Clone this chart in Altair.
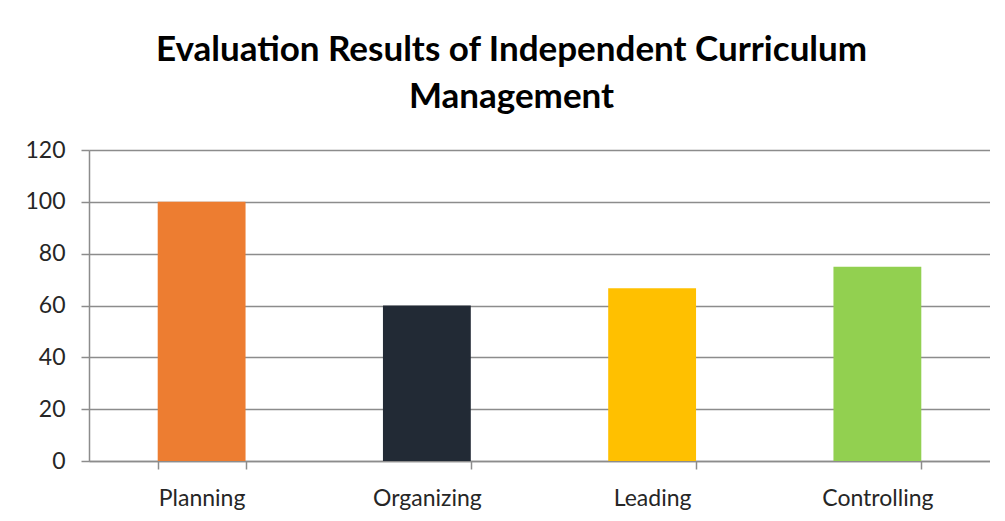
import altair as alt
import pandas as pd

categories = ["Planning", "Organizing", "Leading", "Controlling"]
values = [100, 60, 66.7, 75]
colors = ["#ED7D31", "#222A35", "#FFC000", "#92D050"]

df = pd.DataFrame({"category": categories, "value": values})

FONT = "Lato"

chart = alt.Chart(df).mark_bar().encode(
    x=alt.X("category:N", sort=categories,
            scale=alt.Scale(paddingInner=0.61, paddingOuter=0.305),
            axis=alt.Axis(title=None, labelAngle=0, labelFontSize=23, labelFont=FONT,
                          labelColor="#262626", labelPadding=18, tickBand="extent",
                          tickSize=8, tickColor="#8c8c8c", domainColor="#8c8c8c",
                          tickWidth=1.5, domainWidth=1.5, grid=False)),
    y=alt.Y("value:Q", scale=alt.Scale(domain=[0, 120]),
            axis=alt.Axis(title=None, values=[0, 20, 40, 60, 80, 100, 120],
                          labelFontSize=23, labelFont=FONT, labelColor="#262626",
                          labelPadding=16, tickSize=8, tickColor="#8c8c8c",
                          domainColor="#8c8c8c", tickWidth=1.5, domainWidth=1.5,
                          gridColor="#8c8c8c", gridWidth=1.5)),
    color=alt.Color("category:N", sort=categories,
                    scale=alt.Scale(domain=categories, range=colors), legend=None),
).properties(
    width=901,
    height=311,
    title=alt.TitleParams(
        text=["Evaluation Results of Independent Curriculum", "Management"],
        fontSize=35, font=FONT, fontWeight="bold", color="#000000",
        anchor="middle", dx=-28, offset=24, lineHeight=47,
    ),
    padding={"left": 16, "top": 25, "right": 0, "bottom": 0},
).configure_view(stroke=None).configure(background="white")

chart.save("out.html", embed_options={"renderer": "svg", "actions": False})
